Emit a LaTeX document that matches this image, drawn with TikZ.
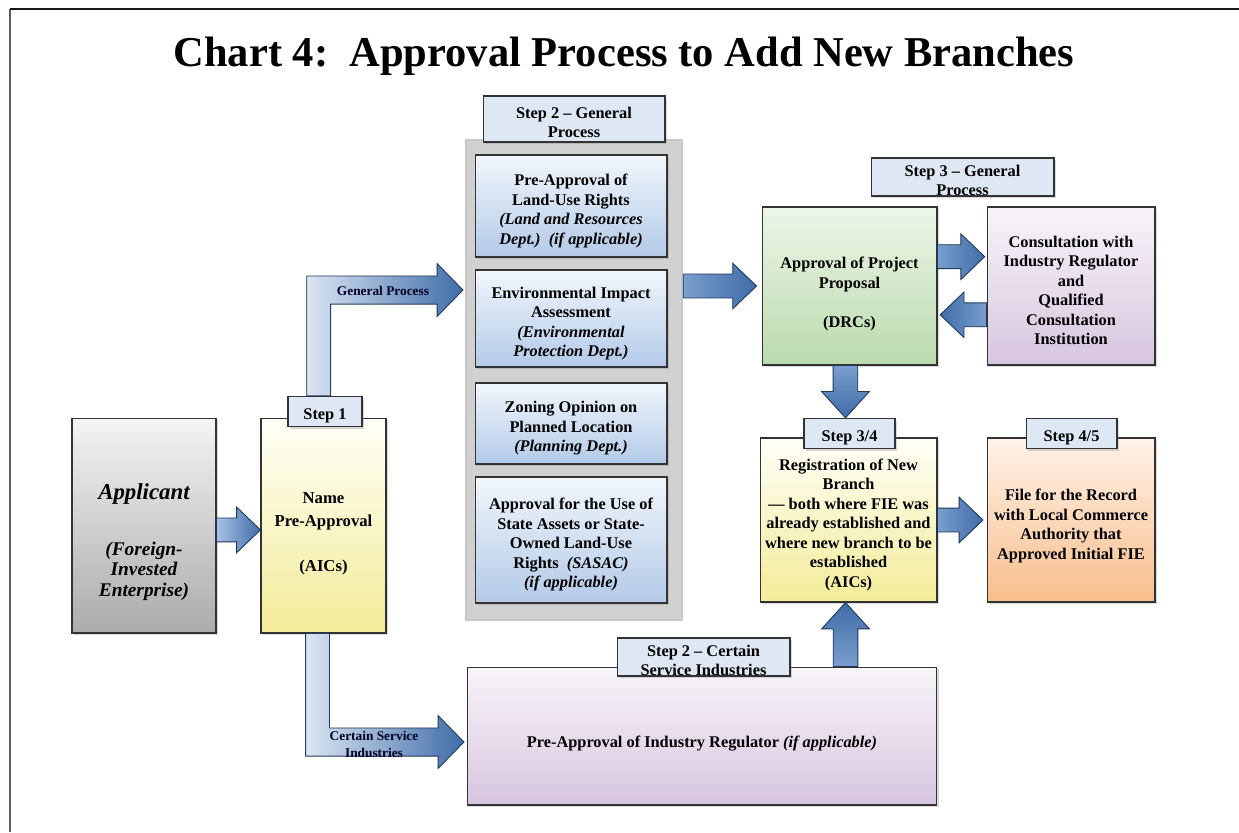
\documentclass[tikz,border=0pt]{standalone}
\usepackage{fontspec}
\setmainfont{Liberation Serif}
\usetikzlibrary{positioning,calc,shadows}

\definecolor{frameline}{HTML}{5E5E5E}
\definecolor{stepfill}{HTML}{DDE8F4}
\definecolor{bluetop}{HTML}{F1F6FC}
\definecolor{bluebot}{HTML}{B3CAE8}
\definecolor{yeltop}{HTML}{FFFFF8}
\definecolor{yelbot}{HTML}{F3EC98}
\definecolor{graytop}{HTML}{F4F4F4}
\definecolor{graybot}{HTML}{ABABAB}
\definecolor{grntop}{HTML}{EDF6E8}
\definecolor{grnbot}{HTML}{BADAAE}
\definecolor{lilatop}{HTML}{F8F4F9}
\definecolor{lilabot}{HTML}{D7C5DF}
\definecolor{orgtop}{HTML}{FFF2E8}
\definecolor{orgbot}{HTML}{F8BE8C}
\definecolor{arrlight}{HTML}{A9C2E4}
\definecolor{arrpale}{HTML}{DCE6F4}
\definecolor{arrmid}{HTML}{7A9ECE}
\definecolor{arrdark}{HTML}{3F6CA8}
\definecolor{arredge}{HTML}{22385A}

% taller first line, pushes the text of a box down a little
\newcommand{\topstrut}[1][12.2pt]{\rule{0pt}{#1}}

\tikzset{
  pbox/.style={draw=black!80, line width=0.6pt, align=center, inner sep=2pt,
    font=\bfseries\fontsize{9.3}{11.1}\selectfont,
    drop shadow={shadow xshift=1.2pt, shadow yshift=-1.4pt, opacity=0.3}},
  bluebox/.style={pbox, top color=bluetop, bottom color=bluebot, minimum width=3.84cm},
  steplab/.style={pbox, fill=stepfill, minimum height=0.58cm},
  widelab/.style={steplab, inner ysep=0pt, text depth=0pt},
  panel/.style={fill=black!18, draw=black!22, line width=1.5pt,
    minimum width=4.32cm, minimum height=9.6cm},
  flowlab/.style={font=\bfseries\fontsize{7.6}{9.6}\selectfont, text=black!85!blue,
    inner sep=0pt, align=center},
  fatarr/.style={draw=arredge, line width=0.5pt},
}

% block arrows: options, start, tip
\newcommand{\fatH}[3]{\path[fatarr,#1] let \p1=(#2), \p2=(#3),
    \n1={ifthenelse(\x2>\x1,1,-1)} in
    (\x1,\y1+6.8pt) -- ({\x2-(\n1)*13.6pt},\y1+6.8pt) -- ({\x2-(\n1)*13.6pt},\y1+13pt)
    -- (\x2,\y1) -- ({\x2-(\n1)*13.6pt},\y1-13pt) -- ({\x2-(\n1)*13.6pt},\y1-6.8pt)
    -- (\x1,\y1-6.8pt) -- cycle;}
\newcommand{\fatV}[3]{\path[fatarr,#1] let \p1=(#2), \p2=(#3),
    \n1={ifthenelse(\y2>\y1,1,-1)} in
    (\x1-7pt,\y1) -- (\x1-7pt,{\y2-(\n1)*15pt}) -- (\x1-13.6pt,{\y2-(\n1)*15pt})
    -- (\x1,\y2) -- (\x1+13.6pt,{\y2-(\n1)*15pt}) -- (\x1+7pt,{\y2-(\n1)*15pt})
    -- (\x1+7pt,\y1) -- cycle;}
\newcommand{\fatElbow}[3]{\path[fatarr,#1] let \p1=(#2), \p2=(#3),
    \n1={ifthenelse(\y2>\y1,1,-1)} in
    (\x1-6.8pt,\y1) -- (\x1-6.8pt,{\y2+(\n1)*8pt}) -- (\x2-14.7pt,{\y2+(\n1)*8pt})
    -- (\x2-14.7pt,{\y2+(\n1)*15pt}) -- (\x2,\y2) -- (\x2-14.7pt,{\y2-(\n1)*15pt})
    -- (\x2-14.7pt,{\y2-(\n1)*8pt}) -- (\x1+6.8pt,{\y2-(\n1)*8pt}) -- (\x1+6.8pt,\y1) -- cycle;}

\begin{document}
\begin{tikzpicture}[x=0.02cm, y=-0.02cm]
  \useasboundingbox (0,0) rectangle (1239,832);
  \draw[frameline, line width=1.6pt] (10,832) -- (10,9);
  \draw[black!90, line width=1.1pt] (10,9) -- (1239,9);

  \node[anchor=base, font=\bfseries\fontsize{24.2}{28}\selectfont] (title) at (624,66)
    {Chart 4:\ \ Approval Process to Add New Branches};

  % applicant and step 1
  \node[pbox, top color=graytop, bottom color=graybot, minimum width=2.88cm, minimum height=4.3cm,
    font=\bfseries\itshape\fontsize{11}{11.4}\selectfont] (m-3-1) at (144,525.5)
    {\mbox{}\\[16pt]{\fontsize{13}{14}\selectfont Applicant}\\[21pt](Foreign-\\Invested\\Enterprise)};
  \node[pbox, top color=yeltop, bottom color=yelbot, minimum width=2.5cm, minimum height=4.3cm,
    font=\bfseries\fontsize{9.5}{13}\selectfont] (m-3-2) at (323.5,525.5)
    {\topstrut[15.6pt]Name\\Pre-Approval\\[13pt](AICs)};
  \node[steplab, minimum width=1.48cm] (l-3-2) at (325,411.5) {\topstrut[11.2pt]Step 1};

  % step 2, general process
  \node[panel] (col-3) at (574,380) {};
  \node[widelab, minimum width=3.64cm, minimum height=0.92cm] (l-1-3) at (574,119)
    {\topstrut[10.5pt]Step 2 -- General\\Process};
  \node[bluebox, minimum height=2.04cm] (m-1-3) at (571,206)
    {\topstrut Pre-Approval of\\Land-Use Rights\\\textit{(Land and Resources}\\\textit{Dept.)\ \ (if applicable)}};
  \node[bluebox, minimum height=1.94cm] (m-2-3) at (571,318.5)
    {\topstrut Environmental Impact\\Assessment\\\textit{(Environmental}\\\textit{Protection Dept.)}};
  \node[bluebox, minimum height=1.62cm] (m-3-3) at (571,423.5)
    {\topstrut Zoning Opinion on\\Planned Location\\\textit{(Planning Dept.)}};
  \node[bluebox, minimum height=2.52cm] (m-4-3) at (571,540)
    {\topstrut Approval for the Use of\\State Assets or State-\\Owned Land-Use\\Rights\ \ \textit{(SASAC)}\\\textit{(if applicable)}};

  % step 2, certain service industries
  \node[pbox, top color=lilatop, bottom color=lilabot, minimum width=9.4cm, minimum height=2.76cm]
    (m-5-3) at (702,736) {\topstrut[15.6pt]Pre-Approval of Industry Regulator \textit{(if applicable)}};
  \node[widelab, minimum width=3.46cm, minimum height=0.76cm] (l-5-3) at (703.5,657)
    {\topstrut[10.5pt]Step 2 -- Certain\\Service Industries};

  % step 3
  \node[pbox, top color=grntop, bottom color=grnbot, minimum width=3.5cm, minimum height=3.16cm]
    (m-1-4) at (849.5,286) {\topstrut[15.6pt]Approval of Project\\Proposal\\[11pt](DRCs)};
  \node[pbox, top color=lilatop, bottom color=lilabot, minimum width=3.36cm, minimum height=3.16cm]
    (m-1-5) at (1071,286)
    {\topstrut[11.6pt]Consultation with\\Industry Regulator\\and\\Qualified\\Consultation\\Institution};
  \node[widelab, minimum width=3.66cm, minimum height=0.76cm] (l-1-4) at (962.5,177)
    {\topstrut[10.5pt]Step 3 -- General\\Process};

  % steps 3/4 and 4/5
  \node[pbox, top color=yeltop, bottom color=yelbot, minimum width=3.54cm, minimum height=3.28cm]
    (m-3-4) at (848.5,520) {\topstrut Registration of New\\Branch\\--- both where FIE was\\already established and\\where new branch to be\\established\\(AICs)};
  \node[pbox, top color=orgtop, bottom color=orgbot, minimum width=3.36cm, minimum height=3.28cm]
    (m-3-5) at (1071,520) {\topstrut[13.4pt]File for the Record\\with Local Commerce\\Authority that\\Approved Initial FIE};
  \node[steplab, minimum width=1.82cm] (l-3-4) at (849.5,433.5) {\topstrut[11.2pt]Step 3/4};
  \node[steplab, minimum width=1.82cm] (l-3-5) at (1071.5,433.5) {\topstrut[11.2pt]Step 4/5};

  % arrows
  \coordinate (gp-tip) at (463,290);
  \coordinate (cs-tip) at (464,742);
  \fatElbow{left color=arrpale, right color=arrdark}{[xshift=-3.6pt]l-3-2.north}{gp-tip}
  \fatElbow{left color=arrpale, right color=arrdark}{[xshift=-3.4pt]m-3-2.south}{cs-tip}
  \node[flowlab] (gp-lab) at (383,291) {General Process};
  \node[flowlab] (cs-lab) at (374,744) {Certain Service\\Industries};

  \fatH{left color=arrlight, right color=arrdark}{[yshift=-2.5pt]m-3-1.east}{[yshift=-2.5pt]m-3-2.west}
  \fatH{left color=arrmid, right color=arrdark}{col-3.east |- m-1-4.west}{[xshift=-2.8pt]m-1-4.west}
  \fatH{left color=arrmid, right color=arrdark}{[yshift=16.7pt]m-1-4.east}{[xshift=-1pt,yshift=16.7pt]m-1-5.west}
  \fatH{left color=arrdark, right color=arrmid}{[yshift=-16.4pt]m-1-5.west}{[xshift=1.5pt,yshift=-16.4pt]m-1-4.east}
  \fatV{top color=arrmid, bottom color=arrdark}{[xshift=-2.3pt]m-1-4.south}{[xshift=-2.3pt]l-3-4.north}
  \fatV{top color=arrdark, bottom color=arrmid}{[xshift=-1.7pt]m-3-4.south |- m-5-3.north}{[xshift=-1.7pt]m-3-4.south}
  \fatH{left color=arrmid, right color=arrdark}{m-3-4.east}{[xshift=-2pt]m-3-5.west}
\end{tikzpicture}
\end{document}
